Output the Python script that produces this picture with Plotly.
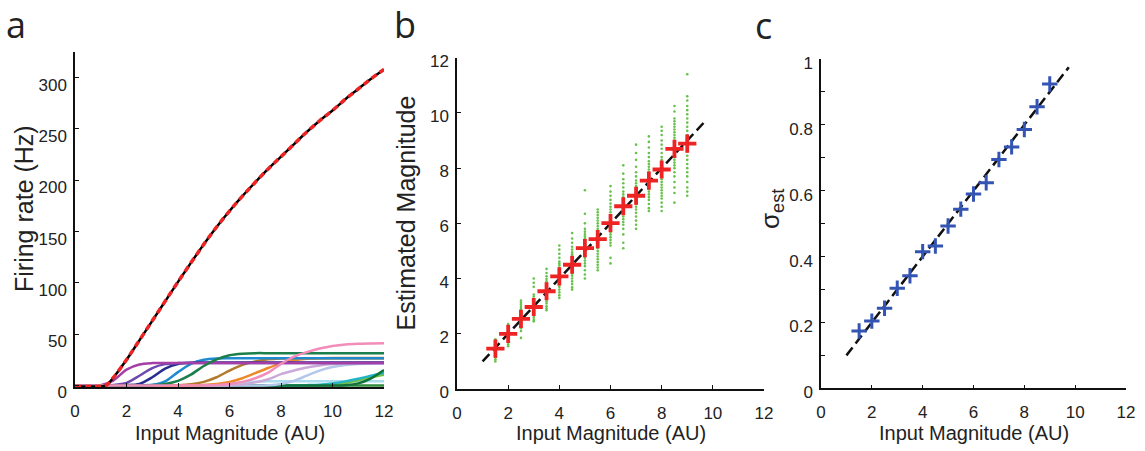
import plotly.graph_objects as go

W, H = 1145, 451

# ---------------- Panel a : tuning curves ----------------
grid_x = [0, 0.5, 1, 1.5, 2, 2.5, 3, 3.5, 4, 4.5, 5, 5.5, 6, 6.5, 7, 7.5, 8, 8.5, 9, 9.5, 10, 10.5, 11, 11.5, 12]

rate_magenta = [0, 0, 0.2, 5, 15.5, 20.5, 21.8, 22, 22, 22, 22, 22, 22, 22, 22, 22, 22, 22, 22, 22, 22, 22, 22, 22, 22]
rate_violet = [0, 0, 0, 0.4, 2.5, 9.5, 17, 20.8, 21.8, 22, 22, 22, 22, 22, 22, 22, 22, 22, 22, 22, 22, 22, 22, 22, 22]
rate_navy = [0, 0, 0, 0, 0.3, 1.5, 8, 16.5, 21, 22.2, 22.4, 22.4, 22.4, 22.4, 22.4, 22.4, 22.4, 22.4, 22.4, 22.4, 22.4, 22.4, 22.4, 22.4, 22.4]
rate_blue = [0, 0, 0, 0, 0, 0.2, 0.6, 4, 13, 21, 25, 26.3, 26.5, 26.5, 26.5, 26.5, 26.5, 26.5, 26.5, 26.5, 26.5, 26.5, 26.5, 26.5, 26.5]
rate_green = [0, 0, 0, 0, 0, 0, 0.3, 1.5, 4.5, 10.5, 19, 25.5, 29.5, 31, 31.5, 31.5, 31.5, 31.5, 31.5, 31.5, 31.5, 31.5, 31.5, 31.5, 31.5]
rate_brown = [0, 0, 0, 0, 0, 0, 0, 0, 0.3, 1.2, 3.5, 8, 14.5, 20, 23.5, 25.5, 26.3, 26.5, 26.5, 26.5, 26.5, 26.5, 26.5, 26.5, 26.5]
rate_orange = [0, 0, 0, 0, 0, 0, 0, 0, 0, 0.1, 0.5, 1.5, 3.5, 7, 12, 17, 21.5, 24.5, 26, 26.6, 26.8, 26.8, 26.8, 26.8, 26.8]
rate_pink = [0, 0, 0, 0, 0, 0, 0, 0, 0, 0, 0.2, 0.5, 1.5, 3.5, 7, 12.5, 21, 28, 32.5, 36, 38.5, 40, 40.7, 41, 41.2]
rate_lavender = [0, 0, 0, 0, 0, 0, 0, 0, 0, 0, 0, 0, 0.3, 1, 3, 6, 11, 14.5, 17.5, 19.5, 20.8, 21.5, 21.8, 22, 22]
rate_paleblue = [0, 0, 0, 0, 0, 0, 0, 0, 0, 0, 0, 0, 0, 0, 0, 0.3, 1.5, 4.5, 9.5, 14.5, 18, 20, 21, 21.5, 21.7]
rate_cyan = [0, 0, 0, 0, 0, 0, 0, 0, 0, 0, 0, 0, 0, 0, 0, 0, 0, 0, 0.3, 0.8, 2, 4, 6.5, 9.5, 12.5]
rate_lime = [0, 0, 0, 0, 0, 0, 0, 0, 0, 0, 0, 0, 0, 0, 0, 0, 0, 0, 0, 0.3, 1, 2.5, 5, 8, 10.5]
rate_darkgreen = [0, 0, 0, 0, 0, 0, 0, 0, 0, 0, 0, 0, 0, 0, 0, 0, 0, 0, 0, 0, 0, 0.3, 2, 7, 15]
rate_lightcyan = [0, 0, 0, 0, 0, 0, 0, 0, 0, 0.2, 0.5, 1, 2, 3, 3.7, 4, 4, 4, 4, 4, 4, 4, 4, 4, 4]
rate_flat = [0] * 25

neuron_rates = [rate_flat, rate_lightcyan, rate_lime, rate_cyan, rate_darkgreen, rate_paleblue,
                rate_lavender, rate_brown, rate_orange, rate_blue, rate_navy, rate_violet,
                rate_magenta, rate_green, rate_pink]
neuron_colors = ["#2f8a3c", "#a8dcef", "#72c043", "#22b4c6", "#11713a", "#b4c6ea",
                 "#c9aad9", "#b37a2c", "#ec8a2a", "#1f8ad0", "#262d8e", "#6e47b0",
                 "#a43fa8", "#1a7f4a", "#f28cba"]

total_x = [0, 0.5, 1, 1.2, 1.5, 2, 2.5, 3, 3.5, 4, 4.5, 5, 5.5, 6, 6.5, 7, 7.5, 8, 8.5, 9, 9.5, 10, 10.5, 11, 11.5, 12]
total_rate = [-1, -1, -0.8, 0, 8, 25, 44, 63, 82, 101, 119.5, 137.5, 154.5, 170, 184.5, 198, 211, 223, 235, 247, 258, 268, 279, 289, 299, 308]

a_yticks = [0, 50, 100, 150, 200, 250, 300]
x_ticks = [0, 2, 4, 6, 8, 10, 12]

# ---------------- Panel b : estimates ----------------
input_levels = [1.5, 2, 2.5, 3, 3.5, 4, 4.5, 5, 5.5, 6, 6.5, 7, 7.5, 8, 8.5, 9]
est_samples = [
    [1.0, 1.08, 1.15, 1.2, 1.25, 1.3, 1.33, 1.36, 1.4, 1.42, 1.45, 1.48, 1.5, 1.53, 1.56, 1.6, 1.63, 1.67, 1.72, 1.8],
    [1.55, 1.62, 1.7, 1.75, 1.8, 1.85, 1.88, 1.92, 1.95, 1.98, 2.0, 2.03, 2.06, 2.1, 2.14, 2.18, 2.22, 2.28, 2.35],
    [1.85, 2.1, 2.2, 2.28, 2.35, 2.4, 2.45, 2.5, 2.53, 2.56, 2.6, 2.64, 2.68, 2.72, 2.78, 2.85, 2.9, 2.97, 3.05, 3.12, 3.2],
    [2.45, 2.5, 2.58, 2.65, 2.7, 2.75, 2.8, 2.85, 2.9, 2.93, 2.97, 3.0, 3.05, 3.1, 3.15, 3.2, 3.27, 3.35, 3.42, 3.7, 3.85, 4.0],
    [2.85, 2.92, 3.0, 3.1, 3.18, 3.25, 3.32, 3.38, 3.44, 3.5, 3.55, 3.6, 3.65, 3.7, 3.76, 3.82, 3.9, 3.98, 4.08, 4.2, 4.35],
    [3.3, 3.4, 3.5, 3.6, 3.7, 3.78, 3.85, 3.92, 3.98, 4.04, 4.1, 4.15, 4.2, 4.26, 4.32, 4.4, 4.48, 4.55, 4.62, 4.75, 4.9, 5.05, 5.2],
    [3.6, 3.68, 3.8, 3.9, 4.0, 4.1, 4.18, 4.25, 4.32, 4.4, 4.46, 4.52, 4.58, 4.65, 4.72, 4.8, 4.88, 4.95, 5.05, 5.15, 5.3, 5.45, 5.65],
    [4.0, 4.15, 4.3, 4.45, 4.55, 4.65, 4.75, 4.85, 4.93, 5.0, 5.08, 5.15, 5.22, 5.3, 5.38, 5.45, 5.52, 5.6, 5.7, 5.8, 6.0, 6.35, 7.2],
    [4.3, 4.4, 4.5, 4.6, 4.7, 4.8, 4.9, 5.0, 5.1, 5.2, 5.3, 5.4, 5.48, 5.55, 5.62, 5.7, 5.8, 5.9, 6.0, 6.1, 6.2, 6.3, 6.4, 6.5],
    [4.55, 4.75, 5.2, 5.3, 5.4, 5.5, 5.6, 5.7, 5.78, 5.85, 5.92, 6.0, 6.07, 6.14, 6.2, 6.3, 6.4, 6.5, 6.6, 6.72, 6.85, 7.0, 7.15, 7.35],
    [5.1, 5.3, 5.6, 5.8, 5.95, 6.05, 6.15, 6.25, 6.35, 6.45, 6.55, 6.62, 6.7, 6.78, 6.86, 6.95, 7.05, 7.15, 7.3, 7.45, 7.6, 7.8, 8.1],
    [5.8, 5.95, 6.1, 6.25, 6.38, 6.5, 6.6, 6.7, 6.8, 6.88, 6.95, 7.02, 7.1, 7.18, 7.26, 7.35, 7.45, 7.55, 7.7, 7.85, 8.05, 8.3, 8.55, 8.85],
    [6.45, 6.55, 6.7, 6.85, 6.95, 7.05, 7.15, 7.25, 7.35, 7.45, 7.52, 7.6, 7.68, 7.76, 7.85, 7.95, 8.05, 8.15, 8.25, 8.4, 8.55, 8.75, 8.95, 9.15],
    [6.45, 6.6, 6.75, 6.9, 7.0, 7.1, 7.2, 7.3, 7.4, 7.5, 7.6, 7.7, 7.8, 7.9, 8.0, 8.1, 8.2, 8.3, 8.4, 8.55, 8.7, 8.85, 9.0, 9.2, 9.35, 9.5],
    [6.75, 7.1, 7.3, 7.5, 7.7, 7.85, 8.0, 8.1, 8.2, 8.3, 8.4, 8.5, 8.6, 8.7, 8.8, 8.9, 9.0, 9.1, 9.2, 9.3, 9.4, 9.5, 9.6, 9.7, 9.8, 10.05, 10.25],
    [7.0, 7.15, 7.3, 7.5, 7.7, 7.85, 8.0, 8.15, 8.3, 8.45, 8.6, 8.75, 8.9, 9.05, 9.2, 9.35, 9.5, 9.65, 9.8, 9.95, 10.1, 10.25, 10.45, 10.6, 11.4],
]
est_mean = [1.46, 2.0, 2.54, 2.97, 3.54, 4.08, 4.5, 5.1, 5.43, 6.01, 6.62, 7.0, 7.55, 7.95, 8.7, 8.89]
identity_x = [1.0, 9.7]
identity_y = [1.0, 9.7]
b_yticks = [0, 2, 4, 6, 8, 10, 12]

# ---------------- Panel c : sigma ----------------
sigma_est = [0.174, 0.204, 0.243, 0.304, 0.342, 0.415, 0.432, 0.493, 0.544, 0.590, 0.624, 0.695, 0.733, 0.786, 0.855, 0.924]
sigma_fit_x = [1.0, 9.75]
sigma_fit_y = [0.1, 0.975]
c_yticks = [0, 0.2, 0.4, 0.6, 0.8, 1.0]
c_yticklabels = ["0", "0.2", "0.4", "0.6", "0.8", "1"]
c_minor_ticks = [0.1, 0.3, 0.5, 0.7, 0.9]

fig = go.Figure()

# panel a
for vals, col in zip(neuron_rates, neuron_colors):
    fig.add_trace(go.Scatter(x=grid_x, y=vals, mode="lines", xaxis="x", yaxis="y",
                             line=dict(color=col, width=2.5, shape="spline", smoothing=0.8),
                             hoverinfo="skip", showlegend=False))
fig.add_trace(go.Scatter(x=total_x, y=total_rate, mode="lines", xaxis="x", yaxis="y",
                         line=dict(color="black", width=2.5, shape="spline", smoothing=1.0),
                         hoverinfo="skip", showlegend=False))
fig.add_trace(go.Scatter(x=total_x, y=total_rate, mode="lines", xaxis="x", yaxis="y",
                         line=dict(color="#ee2424", width=3.5, dash="6px,4px", shape="spline", smoothing=1.0),
                         hoverinfo="skip", showlegend=False))

# panel b
dots_x, dots_y = [], []
for lvl, samples in zip(input_levels, est_samples):
    dots_x += [lvl] * len(samples)
    dots_y += samples
fig.add_trace(go.Scatter(x=dots_x, y=dots_y, mode="markers", xaxis="x2", yaxis="y2",
                         marker=dict(color="#66c24a", size=2.6, line=dict(width=0)),
                         hoverinfo="skip", showlegend=False))
fig.add_trace(go.Scatter(x=identity_x, y=identity_y, mode="lines", xaxis="x2", yaxis="y2",
                         line=dict(color="#111", width=2.5, dash="10px,5px"),
                         hoverinfo="skip", showlegend=False))
fig.add_trace(go.Scatter(x=input_levels, y=est_mean, mode="markers", xaxis="x2", yaxis="y2",
                         marker=dict(symbol="cross-thin", size=13, color="#ee2424",
                                     line=dict(color="#ee2424", width=3.8)),
                         hoverinfo="skip", showlegend=False))

# panel c
fig.add_trace(go.Scatter(x=sigma_fit_x, y=sigma_fit_y, mode="lines", xaxis="x3", yaxis="y3",
                         line=dict(color="#111", width=2.5, dash="10px,5px"),
                         hoverinfo="skip", showlegend=False))
fig.add_trace(go.Scatter(x=input_levels, y=sigma_est, mode="markers", xaxis="x3", yaxis="y3",
                         marker=dict(symbol="cross-thin", size=11, color="#3454b4",
                                     line=dict(color="#3454b4", width=3)),
                         hoverinfo="skip", showlegend=False))

tick_font = dict(family="Liberation Sans, Arial, sans-serif", size=17, color="#222")
axis_common = dict(showline=True, linecolor="#111", linewidth=1.5, ticks="inside", ticklen=4,
                   tickwidth=1.2, tickcolor="#111", showgrid=False, zeroline=False, automargin=False,
                   tickfont=tick_font, mirror=False, fixedrange=True)


def px_x(p):
    return p / W


def px_y(p):
    return 1 - p / H


fig.update_layout(
    template="none",
    width=W, height=H, autosize=False,
    margin=dict(l=0, r=0, t=0, b=0, pad=0),
    paper_bgcolor="white", plot_bgcolor="white",
    showlegend=False,
    xaxis=dict(axis_common, domain=[px_x(75), px_x(384)], range=[0, 12], tickvals=x_ticks,
               anchor="y", ticklabelstandoff=8),
    yaxis=dict(axis_common, domain=[px_y(387), px_y(52)], range=[-1.5, 325], tickvals=a_yticks,
               anchor="x", ticklabelshift=7, ticklabelstandoff=3),
    xaxis2=dict(axis_common, domain=[px_x(457), px_x(764)], range=[0, 12], tickvals=x_ticks,
                anchor="y2", ticklabelstandoff=8),
    yaxis2=dict(axis_common, domain=[px_y(389), px_y(57.7)], range=[0, 12], tickvals=b_yticks,
                anchor="x2", ticklabelshift=3, ticklabelstandoff=3),
    xaxis3=dict(axis_common, domain=[px_x(821), px_x(1126)], range=[0, 12], tickvals=x_ticks,
                anchor="y3", ticklabelstandoff=8),
    yaxis3=dict(axis_common, domain=[px_y(388.3), px_y(59)], range=[0, 1], tickvals=c_yticks,
                ticktext=c_yticklabels, anchor="x3", ticklabelshift=4, ticklabelstandoff=3,
                minor=dict(tickmode="array", tickvals=c_minor_ticks, ticks="inside", ticklen=4,
                           tickwidth=1.2, tickcolor="#111", showgrid=False)),
)

title_font = dict(family="Liberation Sans, Arial, sans-serif", size=20, color="#222")
ytitle_font = dict(family="Liberation Sans, Arial, sans-serif", size=25, color="#222")
letter_font = dict(family="Open Sans, Noto Sans, sans-serif", size=36, color="#222")

annotations = []
for cx in (229.5, 611, 974):
    annotations.append(dict(text="Input Magnitude (AU)", x=px_x(cx), y=px_y(433), xref="paper", yref="paper",
                            showarrow=False, xanchor="center", yanchor="middle", font=title_font))
annotations.append(dict(text="Firing rate (Hz)", x=px_x(24), y=px_y(209), xref="paper", yref="paper",
                        showarrow=False, textangle=-90, xanchor="center", yanchor="middle", font=ytitle_font))
annotations.append(dict(text="Estimated Magnitude", x=px_x(405), y=px_y(213.5), xref="paper", yref="paper",
                        showarrow=False, textangle=-90, xanchor="center", yanchor="middle", font=ytitle_font))
annotations.append(dict(text="σ<sub>est</sub>", x=px_x(772), y=px_y(209), xref="paper", yref="paper",
                        showarrow=False, textangle=-90, xanchor="center", yanchor="middle",
                        font=dict(family="Liberation Sans, Arial, sans-serif", size=26, color="#222")))
for letter, lx, ly in (("a", 16, 25), ("b", 405, 25), ("c", 763, 26)):
    annotations.append(dict(text=letter, x=px_x(lx), y=px_y(ly), xref="paper", yref="paper",
                            showarrow=False, xanchor="center", yanchor="middle", font=letter_font))
fig.update_layout(annotations=annotations)

fig.write_html("out.html", config={"displayModeBar": False},
               post_script="document.body.style.margin='0';document.body.style.overflow='hidden';")
